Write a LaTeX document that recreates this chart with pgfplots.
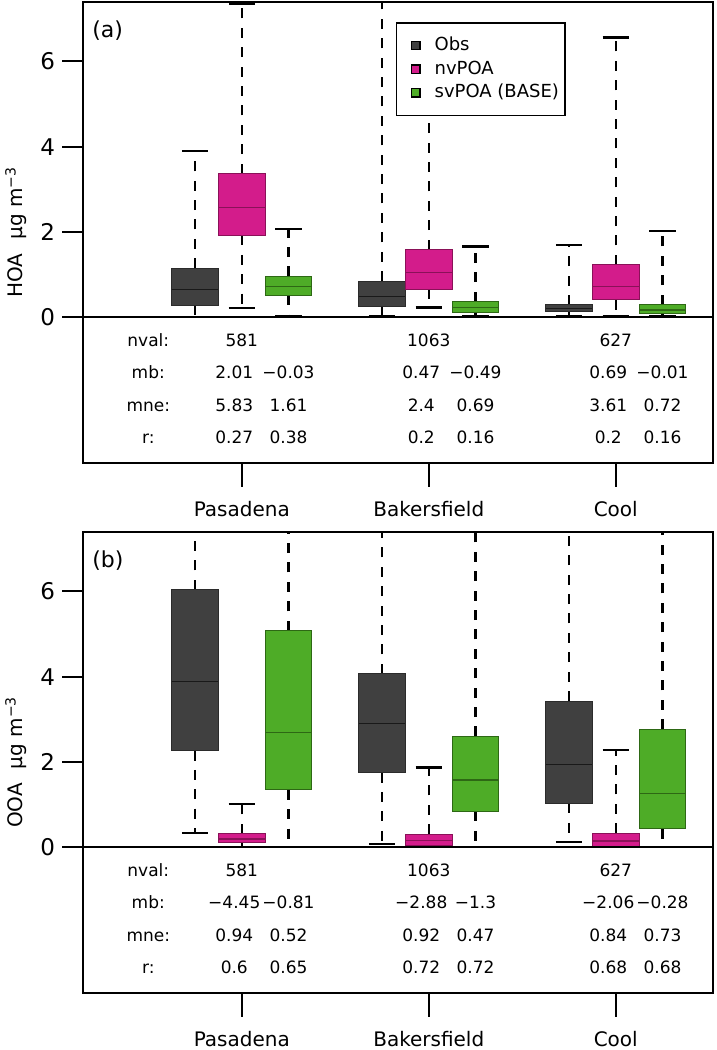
\documentclass[border=0pt]{standalone}
\usepackage{fontspec}
\setmainfont{DejaVu Sans}
\usepackage{pgfplots}
\pgfplotsset{compat=1.18}
\usepgfplotslibrary{statistics}

\definecolor{obsfill}{HTML}{404040}
\definecolor{obsedge}{HTML}{2B2B2B}
\definecolor{nvfill}{HTML}{D31C8B}
\definecolor{nvedge}{HTML}{8A1158}
\definecolor{svfill}{HTML}{4EAC27}
\definecolor{svedge}{HTML}{2D6814}

% one prepared box: style, position, lw, lq, median, uq, uw
\newcommand{\bx}[7]{%
  \addplot[#1, boxplot prepared={draw position=#2, lower whisker=#3,
    lower quartile=#4, median=#5, upper quartile=#6, upper whisker=#7}]
    coordinates {};}

% one row of the statistics table under a panel
\newcommand{\statrow}[8]{%
  \node[stat] at (axis cs:0.5,#1) {#2};
  \node[stat] at (axis cs:0.96,#1) {#3};
  \node[stat] at (axis cs:1.25,#1) {#4};
  \node[stat] at (axis cs:1.96,#1) {#5};
  \node[stat] at (axis cs:2.25,#1) {#6};
  \node[stat] at (axis cs:2.96,#1) {#7};
  \node[stat] at (axis cs:3.25,#1) {#8};}
\newcommand{\nvalrow}{%
  \node[stat] at (axis cs:0.5,-0.69) {nval:};
  \node[stat] at (axis cs:1,-0.69) {581};
  \node[stat] at (axis cs:2,-0.69) {1063};
  \node[stat] at (axis cs:3,-0.69) {627};}

\tikzset{
  stat/.style={anchor=base, inner sep=0pt, font=\fontsize{8.5}{10}\selectfont},
  whisk/.style={black, line width=1.2pt},
}

\pgfplotsset{
  obs/.style={boxplot/every box/.style={fill=obsfill, draw=obsedge, line width=0.5pt},
    boxplot/every median/.style={draw=black!90, line width=0.6pt}},
  nv/.style={boxplot/every box/.style={fill=nvfill, draw=nvedge, line width=0.5pt},
    boxplot/every median/.style={draw=nvedge, line width=0.6pt}},
  sv/.style={boxplot/every box/.style={fill=svfill, draw=svedge, line width=0.5pt},
    boxplot/every median/.style={draw=svedge, line width=0.6pt}},
  panel/.style={
    scale only axis, width=315pt, height=230.65pt,
    xmin=0.151, xmax=3.52, ymin=-3.423, ymax=7.393,
    axis line style={line width=1pt},
    tick align=outside, tick pos=left,
    xtick={1,2,3}, xticklabels={Pasadena,Bakersfield,Cool},
    ytick={0,2,4,6}, minor tick num=0,
    major tick length=10.5pt,
    every tick/.style={black, line width=1pt},
    xtick style={/pgfplots/major tick length=11.7pt},
    /pgf/number format/assume math mode=true,
    yticklabel style={font=\fontsize{11.5}{13}\selectfont},
    xticklabel style={font=\fontsize{10}{12}\selectfont, text height=7.6pt, yshift=-5pt},
    clip mode=individual,
    boxplot/draw direction=y,
    boxplot/box extend=0.25,
    boxplot/whisker extend=0.14,
    boxplot/draw/lower whisker/.code={
      \draw[whisk, dash pattern=on 5pt off 4.7pt]
        (boxplot cs:\pgfplotsboxplotvalue{lower quartile}) --
        (boxplot cs:\pgfplotsboxplotvalue{lower whisker});
      \draw[whisk, line width=1.1pt]
        (boxplot whisker cs:\pgfplotsboxplotvalue{lower whisker},0) --
        (boxplot whisker cs:\pgfplotsboxplotvalue{lower whisker},1);
    },
    boxplot/draw/upper whisker/.code={
      \draw[whisk, dash pattern=on 5pt off 4.7pt]
        (boxplot cs:\pgfplotsboxplotvalue{upper quartile}) --
        (boxplot cs:\pgfplotsboxplotvalue{upper whisker});
      \draw[whisk, line width=1.1pt]
        (boxplot whisker cs:\pgfplotsboxplotvalue{upper whisker},0) --
        (boxplot whisker cs:\pgfplotsboxplotvalue{upper whisker},1);
    },
  }
}

\begin{document}
\begin{tikzpicture}
\useasboundingbox (0,0) rectangle (358.5pt,-525pt);

% ---------------- (a) HOA ----------------
\begin{axis}[panel, at={(41.5pt,-1pt)}, anchor=north west,
  legend image code/.code={\fill[#1] (0pt,-2pt) rectangle (4.2pt,2.2pt);},
  legend style={at={(0.4968,0.9563)}, anchor=north west, draw=black,
    line width=0.75pt, fill=white, font=\fontsize{9}{10}\selectfont,
    inner xsep=7pt, inner ysep=7pt, row sep=3pt, column sep=7pt,
    nodes={inner sep=0pt, text height=6.8pt, text depth=2pt}},
  legend cell align=left,
]
\addlegendimage{fill=obsfill}\addlegendentry{Obs}
\addlegendimage{fill=nvfill}\addlegendentry{nvPOA}
\addlegendimage{fill=svfill}\addlegendentry{svPOA (BASE)\hspace*{-4pt}}

\bx{obs}{0.75}{0.00}{0.28}{0.66}{1.15}{3.90}
\bx{nv}{1.00}{0.22}{1.92}{2.57}{3.37}{7.36}
\bx{sv}{1.25}{0.04}{0.52}{0.72}{0.96}{2.07}
\bx{obs}{1.75}{0.04}{0.265}{0.48}{0.85}{12}
\bx{nv}{2.00}{0.23}{0.66}{1.05}{1.59}{6.2}
\bx{sv}{2.25}{0.04}{0.12}{0.23}{0.37}{1.66}
\bx{obs}{2.75}{0.04}{0.13}{0.21}{0.29}{1.69}
\bx{nv}{3.00}{0.04}{0.41}{0.73}{1.23}{6.56}
\bx{sv}{3.25}{0.03}{0.08}{0.17}{0.30}{2.02}

\draw[line width=1pt] (axis cs:0.151,0) -- (axis cs:3.52,0);
\nvalrow
\statrow{-1.445}{mb:}{2.01}{−0.03}{0.47}{−0.49}{0.69}{−0.01}
\statrow{-2.20}{mne:}{5.83}{1.61}{2.4}{0.69}{3.61}{0.72}
\statrow{-2.955}{r:}{0.27}{0.38}{0.2}{0.16}{0.2}{0.16}

\node[anchor=base west, inner sep=0pt, font=\fontsize{11}{13}\selectfont]
  at ([xshift=4.5pt,yshift=-17.5pt]rel axis cs:0,1) {(a)};
\node[rotate=90, anchor=base, inner sep=0pt, font=\fontsize{10}{12}\selectfont]
  at ([xshift=-30pt]axis cs:0.151,2) {HOA\hspace{7pt}μg m\textsuperscript{−3}};
\end{axis}

% ---------------- (b) OOA ----------------
\begin{axis}[panel, at={(41.5pt,-266pt)}, anchor=north west]
\bx{obs}{0.75}{0.34}{2.27}{3.88}{6.04}{12}
\bx{nv}{1.00}{0.00}{0.11}{0.195}{0.32}{1.01}
\bx{sv}{1.25}{0.01}{1.35}{2.70}{5.08}{12}
\bx{obs}{1.75}{0.08}{1.75}{2.91}{4.07}{12}
\bx{nv}{2.00}{0.00}{0.05}{0.16}{0.31}{1.87}
\bx{sv}{2.25}{0.01}{0.84}{1.58}{2.60}{12}
\bx{obs}{2.75}{0.12}{1.03}{1.95}{3.43}{12}
\bx{nv}{3.00}{0.00}{0.03}{0.15}{0.33}{2.29}
\bx{sv}{3.25}{0.00}{0.43}{1.27}{2.77}{12}

\draw[line width=1pt] (axis cs:0.151,0) -- (axis cs:3.52,0);
\nvalrow
\statrow{-1.445}{mb:}{−4.45}{−0.81}{−2.88}{−1.3}{−2.06}{−0.28}
\statrow{-2.20}{mne:}{0.94}{0.52}{0.92}{0.47}{0.84}{0.73}
\statrow{-2.955}{r:}{0.6}{0.65}{0.72}{0.72}{0.68}{0.68}

\node[anchor=base west, inner sep=0pt, font=\fontsize{11}{13}\selectfont]
  at ([xshift=4.5pt,yshift=-17.5pt]rel axis cs:0,1) {(b)};
\node[rotate=90, anchor=base, inner sep=0pt, font=\fontsize{10}{12}\selectfont]
  at ([xshift=-30pt]axis cs:0.151,2) {OOA\hspace{7pt}μg m\textsuperscript{−3}};
\end{axis}
\end{tikzpicture}
\end{document}
